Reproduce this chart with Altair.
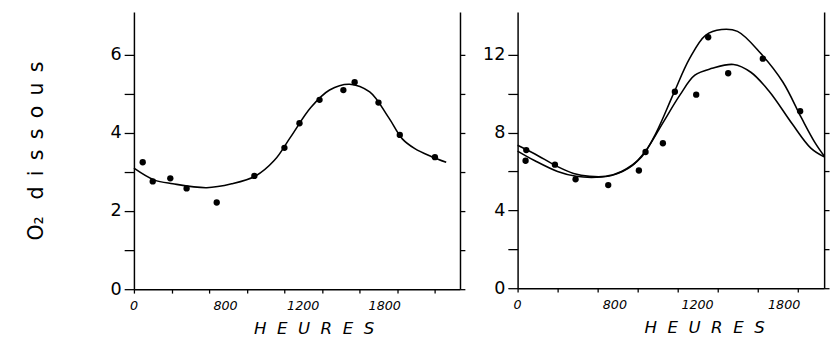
import altair as alt
import pandas as pd

# ---------------- data ----------------
# Left panel: measured points (hours, dissolved O2)
left_pts_h = [0.7, 1.5, 2.9, 4.2, 6.6, 9.6, 12.0, 13.2, 14.8, 16.7, 17.6, 19.5, 21.2, 24.0]
left_pts_v = [3.25, 2.76, 2.84, 2.58, 2.22, 2.9, 3.62, 4.25, 4.85, 5.1, 5.3, 4.78, 3.95, 3.38]
# Left panel: fitted curve
left_curve_h = [0.0, 1.6, 3.1, 5.8, 7.8, 9.7, 11.2, 12.5, 14.1, 15.6, 17.2, 18.8, 20.3, 21.4, 22.4, 23.7, 24.9]
left_curve_v = [3.1, 2.8, 2.7, 2.6, 2.7, 2.9, 3.3, 3.9, 4.65, 5.1, 5.25, 5.05, 4.4, 3.85, 3.6, 3.4, 3.25]

# Right panel: measured points
right_pts_h = [0.65, 0.6, 2.8, 4.35, 6.8, 9.1, 9.6, 10.9, 11.8, 13.4, 14.3, 15.8, 18.4, 21.2]
right_pts_v = [7.1, 6.55, 6.35, 5.6, 5.3, 6.05, 7.0, 7.45, 10.1, 9.95, 12.9, 11.05, 11.8, 9.1]
# Right panel: upper fitted curve
right_up_h = [0.0, 1.3, 3.0, 4.2, 5.4, 6.6, 7.8, 9.3, 10.4, 11.7, 12.9, 14.1, 15.3, 16.5, 18.2, 19.9, 21.3, 22.3, 23.0]
right_up_v = [7.35, 6.9, 6.25, 5.9, 5.75, 5.75, 6.0, 6.75, 8.0, 10.0, 11.8, 13.0, 13.3, 13.2, 12.1, 10.6, 8.75, 7.5, 6.8]
# Right panel: lower fitted curve
right_lo_h = [0.0, 1.3, 3.0, 4.4, 5.9, 7.1, 8.6, 9.7, 10.9, 12.2, 13.3, 14.6, 16.2, 17.5, 18.9, 20.6, 22.0, 23.0]
right_lo_v = [7.05, 6.55, 6.0, 5.75, 5.7, 5.8, 6.3, 7.15, 8.5, 9.95, 10.95, 11.3, 11.5, 11.1, 10.1, 8.45, 7.2, 6.75]

# Axis ticks and labels
x_tick_vals_left = [0, 3, 6, 9, 12, 15, 18, 21, 24]
x_tick_vals_right = [0, 3, 6, 9, 12, 15, 18, 21]
x_label_pos = [0, 7.3, 13.5, 20.0]
x_label_text = ["0", "800", "1200", "1800"]
left_y_ticks = [0, 1, 2, 3, 4, 5, 6]
right_y_ticks = [0, 2, 4, 6, 8, 10, 12]

FONT = "DejaVu Sans"
SP = "\u00a0"
EN = "\u2002"
X_TITLE = (SP * 2).join(list("HEURES"))
Y_TITLE = "O\u2082" + EN + SP + EN.join(list("dissous"))


def panel(pts_h, pts_v, curves, xdom, ydom, xticks, yticks, label_every, w, h,
          ytitle, title_x):
    pts = pd.DataFrame({"h": pts_h, "v": pts_v})
    rows = []
    for name, ch, cv in curves:
        for a, b in zip(ch, cv):
            rows.append({"h": a, "v": b, "s": name})
    cur = pd.DataFrame(rows)
    labs = pd.DataFrame({"h": x_label_pos, "t": x_label_text})

    xscale = alt.Scale(domain=xdom, nice=False, zero=False)
    yscale = alt.Scale(domain=ydom, nice=False)

    x_axis = alt.Axis(values=xticks, labels=False, tickSize=4, title=X_TITLE,
                      titleFont=FONT, titleFontStyle="italic", titleFontSize=17,
                      titleFontWeight="normal", titleX=title_x, titleY=40,
                      titleAlign="center", titleBaseline="middle")
    yargs = dict(values=yticks, tickSize=10, labelPadding=3,
                 labelExpr=f"datum.value % {label_every} == 0 ? datum.label : ''",
                 labelFont=FONT, labelFontSize=18)
    if ytitle:
        y_axis_left = alt.Axis(title=ytitle, titleFont=FONT, titleFontSize=21,
                               titleFontWeight="normal", titlePadding=65, **yargs)
    else:
        y_axis_left = alt.Axis(title=None, **yargs)
    y_axis_right = alt.Axis(values=yticks, orient="right", labels=False, tickSize=5, title=None)

    line = alt.Chart(cur).mark_line(color="black", strokeWidth=1.6,
                                    interpolate="catmull-rom").encode(
        x=alt.X("h:Q", scale=xscale, axis=x_axis),
        y=alt.Y("v:Q", scale=yscale, axis=y_axis_left),
        detail="s:N",
    )
    dots = alt.Chart(pts).mark_circle(color="black", size=42, opacity=1).encode(
        x=alt.X("h:Q", scale=xscale),
        y=alt.Y("v:Q", scale=yscale, axis=y_axis_right),
    )
    text = alt.Chart(labs).mark_text(font=FONT, fontStyle="italic", fontSize=13,
                                     color="black", baseline="middle").encode(
        x=alt.X("h:Q", scale=xscale),
        y=alt.value(h + 17),
        text="t:N",
    )
    return alt.layer(line, dots, text).resolve_axis(y="independent").properties(width=w, height=h)


left = panel(left_pts_h, left_pts_v, [("a", left_curve_h, left_curve_v)],
             [0, 26], [0, 7.1], x_tick_vals_left, left_y_ticks, 2, 334, 284,
             Y_TITLE, 184)
right = panel(right_pts_h, right_pts_v,
              [("up", right_up_h, right_up_v), ("lo", right_lo_h, right_lo_v)],
              [0, 23], [0, 14.2], x_tick_vals_right, right_y_ticks, 4, 314, 283,
              None, 191)

chart = alt.hconcat(left, right, spacing=17).properties(
    padding={"left": 18, "top": 0, "right": 0, "bottom": 0}
).configure_view(stroke=None).configure_axis(
    grid=False, domainColor="black", tickColor="black", labelColor="black",
    titleColor="black", domainWidth=1.5, tickWidth=1.3
)

chart.save("out.html", embed_options={"renderer": "svg", "actions": False})
